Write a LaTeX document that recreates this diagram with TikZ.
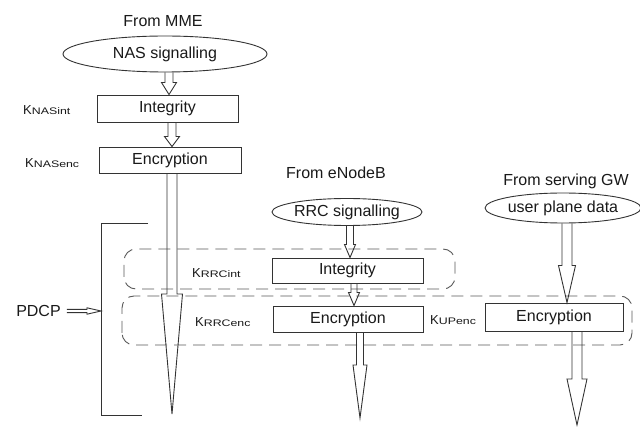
\documentclass[tikz,border=0pt]{standalone}
\usepackage{fontspec}
\setmainfont{Liberation Sans}
\newfontfamily\subfont[FakeStretch=1.3]{Liberation Sans}
\usetikzlibrary{shapes.geometric,calc}

% key name: a large K followed by a small, wide index
\newcommand\keyname[1]{{\fontsize{13}{14}\selectfont K}{\subfont\fontsize{9.5}{11}\selectfont #1}}

% open block arrow from #1 to #2: head length #3, shaft half width #4, head half width #5
\newcommand\hollowarrow[5]{%
  \coordinate (ha-h) at ($(#2)!#3!(#1)$);
  \draw[hollow] ($(#1)!#4!90:(#2)$) -- ($(ha-h)!#4!90:(#2)$) -- ($(ha-h)!#5!90:(#2)$)
    -- (#2) -- ($(ha-h)!#5!-90:(#2)$) -- ($(ha-h)!#4!-90:(#2)$) -- ($(#1)!#4!-90:(#2)$);
}

\begin{document}
\begin{tikzpicture}[x=1pt,y=1pt,
  line/.style={draw=black!80,line width=0.9pt},
  txt/.style={text=black!90,font=\fontsize{16}{18}\selectfont},
  box/.style={line,txt,rectangle,inner sep=0pt},
  oval/.style={line,txt,ellipse,inner sep=0pt},
  heading/.style={txt,inner sep=0pt},
  keylabel/.style={text=black!90,anchor=west,inner sep=0pt},
  region/.style={draw=black!65,line width=0.9pt,dash pattern=on 12pt off 7pt,rounded corners=12pt},
  hollow/.style={line,line join=miter}
]
\useasboundingbox (0,0) rectangle (640,426);

% PDCP regions
\draw[region] (124,137) rectangle (455,177);
\draw[region] (122,81) rectangle (632,130);

% NAS chain
\node[heading] (fromMME) at (163,405) {From MME};
\node[oval,minimum width=204pt,minimum height=36pt] (nasSig) at (165,372) {NAS signalling};
\node[box,minimum width=141pt,minimum height=27pt] (nasInt) at (167.5,317.5) {Integrity};
\node[box,minimum width=142pt,minimum height=26pt] (nasEnc) at (170,266) {Encryption};
\node[keylabel] (kNASint) at (23,316) {\keyname{NASint}};
\node[keylabel] (kNASenc) at (25,263) {\keyname{NASenc}};

% RRC chain
\node[heading] (fromENB) at (336,253) {From eNodeB};
\node[oval,minimum width=150pt,minimum height=27pt] (rrcSig) at (347,214) {RRC signalling};
\node[box,minimum width=151pt,minimum height=25pt] (rrcInt) at (347.5,155.5) {Integrity};
\node[box,minimum width=150pt,minimum height=26pt] (rrcEnc) at (348,107) {Encryption};
\node[keylabel] (kRRCint) at (192,153) {\keyname{RRCint}};
\node[keylabel] (kRRCenc) at (195,104) {\keyname{RRCenc}};

% user plane chain
\node[heading] (fromGW) at (566,245) {From serving GW};
\node[oval,minimum width=140pt,minimum height=30pt] (upData) at (563,218) {user plane data};
\node[box,minimum width=138pt,minimum height=28pt] (upEnc) at (554,109) {Encryption};
\node[keylabel] (kUPenc) at (430,106) {\keyname{UPenc}};

% PDCP bracket and label
\draw[line] (148,203) -- (101,203) -- (101,11) -- (142,11);
\coordinate (brk) at (101,115);
\node[heading] (pdcp) at (38.5,115) {PDCP};

% arrow end points
\coordinate (a1s) at ($(nasSig.south)+(4,0)$);
\coordinate (a1e) at (a1s |- nasInt.north);
\coordinate (a2s) at ($(nasInt.south)+(4.5,0)$);
\coordinate (a2e) at (a2s |- nasEnc.north);
\coordinate (a3s) at ($(nasEnc.south)+(2,0)$);
\coordinate (a3e) at (172,12);
\coordinate (b1s) at ($(rrcSig.south)+(3,0)$);
\coordinate (b1e) at (b1s |- rrcInt.north);
\coordinate (b2s) at ($(rrcInt.south)+(6.5,0)$);
\coordinate (b2e) at (b2s |- rrcEnc.north);
\coordinate (b3s) at ($(rrcEnc.south)+(12,0)$);
\coordinate (b3e) at (360,8);
\coordinate (c1s) at ($(upData.south)+(4,0)$);
\coordinate (c1e) at (c1s |- upEnc.north);
\coordinate (c2s) at ($(upEnc.south)+(23,0)$);
\coordinate (c2e) at (577,1);
\coordinate (ps) at ($(pdcp.east)+(6,0)$);

% block arrows
\hollowarrow{a1s}{a1e}{12pt}{4pt}{7.5pt}
\hollowarrow{a2s}{a2e}{10pt}{4pt}{7.5pt}
\hollowarrow{a3s}{a3e}{120pt}{5pt}{10.5pt}
\hollowarrow{b1s}{b1e}{13pt}{3.5pt}{5.5pt}
\hollowarrow{b2s}{b2e}{13pt}{3pt}{5.5pt}
\hollowarrow{b3s}{b3e}{53pt}{3.5pt}{7pt}
\hollowarrow{c1s}{c1e}{37pt}{5pt}{8.5pt}
\hollowarrow{c2s}{c2e}{46pt}{5pt}{10pt}
\hollowarrow{ps}{brk}{14pt}{1.6pt}{3.2pt}
\end{tikzpicture}
\end{document}
